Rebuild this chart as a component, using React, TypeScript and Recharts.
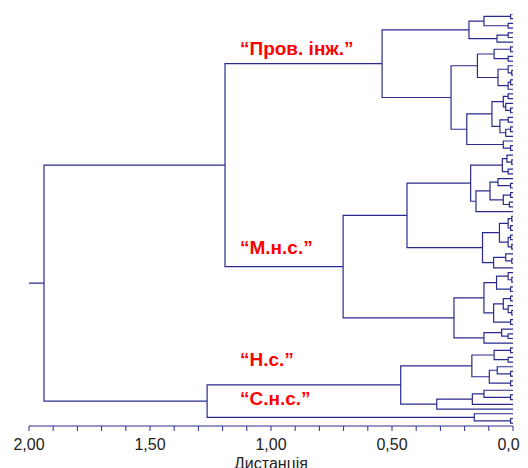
import React from 'react';
import { LineChart, Line, XAxis, YAxis, Label } from 'recharts';

// tree nodes are [mergeDistance, left, right]; a leaf is 0
type Node = number | [number, Node, Node];
const L = 0;

const provInzh: Node[] = [
  [0.182, [0.12, [0.01, L, L], [0.02, L, L]], [0.066, [0.02, L, L], L]],
  [0.256,
    [0.147, [0.078, [0.01, L, L], [0.02, L, L]], [0.062, [0.02, L, [0.005, L, L]], [0.02, [0.01, L, L], L]]],
    [0.191,
      [0.087, [0.04, [0.02, L, L], [0.03, L, [0.01, L, L]]], [0.054, [0.02, L, L], [0.03, [0.01, L, L], L]]],
      [0.04, L, [0.01, L, L]]]],
];

const mns1: Node[] = [
  [0.175, [0.044, [0.025, L, [0.005, L, L]], [0.02, L, L]],
    [0.153, [0.095, [0.062, L, [0.01, L, L]], [0.04, [0.01, L, L], [0.015, L, L]]], L]],
  [0.126, [0.056, [0.02, [0.005, L, L], [0.01, L, L]], [0.02, [0.01, L, L], [0.005, L, L]]],
    [0.08, [0.03, L, [0.005, L, L]], L]],
];

const mns2: Node[] = [
  [0.12, [0.068, [0.02, L, [0.005, L, L]], [0.01, L, L]],
    [0.08, [0.04, [0.01, L, L], [0.02, L, [0.005, L, L]]], [0.01, L, L]]],
  [0.12, [0.047, L, [0.02, L, L]], L],
];

const ns: Node[] = [
  [0.17, [0.078, [0.01, L, L], [0.02, L, L]], [0.098, [0.065, L, [0.01, L, L]], [0.01, L, L]]],
  [0.315, [0.168, [0.12, L, [0.01, L, L]], L], L],
];

const sns: Node = [0.16, L, [0.01, L, L]];

// upper-level merge distances
const heights = { prov: 0.541, mns1: 0.438, mns2: 0.244, mns: 0.702, upper: 1.19, ns: 0.464, lower: 1.264, root: 1.938 };

const tree: Node = [heights.root,
  [heights.upper,
    [heights.prov, provInzh[0], provInzh[1]],
    [heights.mns, [heights.mns1, mns1[0], mns1[1]], [heights.mns2, mns2[0], mns2[1]]]],
  [heights.lower, [heights.ns, ns[0], ns[1]], sns]];

const ticks = [0, 0.1, 0.2, 0.3, 0.4, 0.5, 0.6, 0.7, 0.8, 0.9, 1, 1.1, 1.2, 1.3, 1.4, 1.5, 1.6, 1.7, 1.8, 1.9, 2];
const groupNames = ['“Пров. інж.”', '“М.н.с.”', '“Н.с.”', '“С.н.с.”'];

function buildSegments(root: Node) {
  const pts: { x: number; y: number | null }[] = [];
  let leaf = 0;
  const walk = (n: Node): { x: number; y: number } => {
    if (!Array.isArray(n)) return { x: 0, y: leaf++ };
    const [h, a, b] = n;
    const l = walk(a);
    const r = walk(b);
    pts.push({ x: l.x, y: l.y }, { x: h, y: l.y }, { x: h, y: r.y }, { x: r.x, y: r.y }, { x: r.x, y: null });
    return { x: h, y: (l.y + r.y) / 2 };
  };
  const top = walk(root);
  pts.push({ x: 2, y: top.y }, { x: top.x, y: top.y });
  return pts;
}

const segments = buildSegments(tree);
const lineColor = '#2a2a8e';
const font = '"Liberation Sans", Arial, sans-serif';
const labelTops = [31, 230, 342, 381];

export default function App() {
  return (
    <div style={{ position: 'relative', width: 520, height: 460, fontFamily: font }}>
      <LineChart width={520} height={460} data={segments} margin={{ top: 6, right: 15, bottom: 12, left: 21 }}>
        <XAxis
          dataKey="x"
          type="number"
          domain={[0, 2]}
          reversed
          allowDataOverflow
          ticks={ticks}
          interval={0}
          height={30}
          stroke={lineColor}
          tickSize={5}
          tickMargin={8}
          tick={{ fill: '#222', fontSize: 16, fontFamily: font }}
          tickFormatter={(v: number) => (Math.abs(v * 2 - Math.round(v * 2)) < 1e-6 ? v.toFixed(2).replace('.', ',') : '')}
        >
          <Label value="Дистанція" position="bottom" offset={2} fill="#222" fontSize={16} fontFamily={font} />
        </XAxis>
        <YAxis type="number" hide reversed domain={[0, 87.6]} allowDataOverflow />
        <Line
          dataKey="y"
          type="linear"
          stroke={lineColor}
          strokeWidth={1.2}
          dot={false}
          isAnimationActive={false}
        />
      </LineChart>
      {groupNames.map((name, i) => (
        <div
          key={name}
          style={{
            position: 'absolute',
            left: 232,
            top: labelTops[i],
            color: '#ff0000',
            fontWeight: 700,
            fontSize: 19,
            lineHeight: '19px',
            whiteSpace: 'nowrap',
          }}
        >
          {name}
        </div>
      ))}
    </div>
  );
}
